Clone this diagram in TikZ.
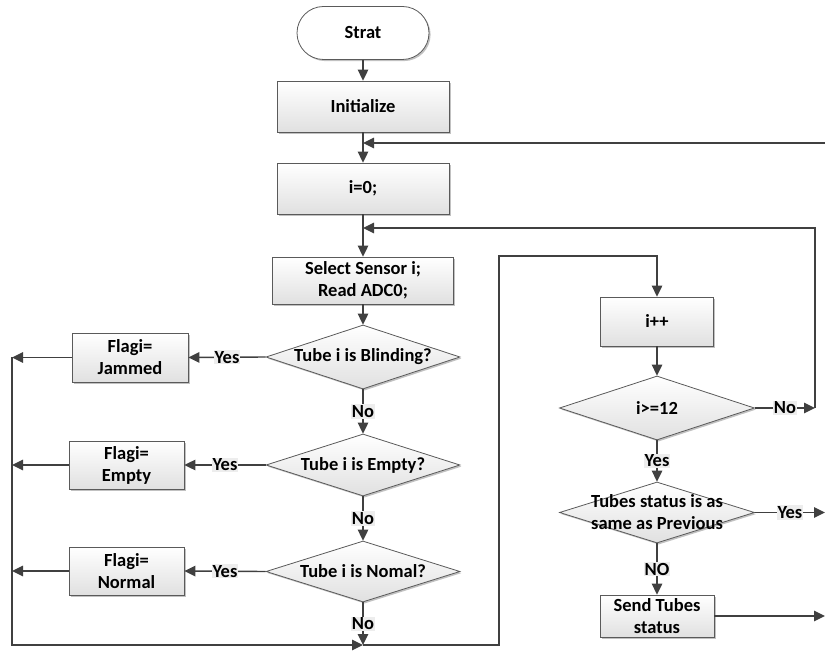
\documentclass[tikz,border=0pt]{standalone}
\usepackage{fontspec}
\setmainfont{Carlito}
\usetikzlibrary{arrows.meta,shapes.geometric,shadows}
\definecolor{ln}{HTML}{404040}
\definecolor{bd}{HTML}{5A5A5A}
\definecolor{lb}{HTML}{EDEDED}
\begin{document}
\begin{tikzpicture}[x=1pt,y=-1pt,
  font=\fontsize{18.5}{22}\selectfont\bfseries,
  shad/.style={drop shadow={shadow xshift=1.6pt,shadow yshift=-1.6pt,fill=black!30,opacity=0.8}},
  box/.style={draw=bd, line width=0.8pt, top color=white, bottom color=black!12, shad, align=center, inner sep=2pt},
  term/.style={draw=bd, line width=0.8pt, fill=white, shad, rounded corners=26.5pt, minimum width=132pt, minimum height=53pt},
  dec/.style={draw=bd, line width=0.8pt, shape=diamond, top color=white, bottom color=black!12, shad, inner sep=0pt},
  lbl/.style={fill=lb, inner sep=1pt, text=black},
  arr/.style={draw=ln, line width=1.4pt, -{Triangle[length=11pt,width=10.5pt]}},
  ln/.style={draw=ln, line width=1.4pt}
]
\useasboundingbox (0,0) rectangle (825,652);

% left column
\node[term] (start) at (363,33) {Strat};
\node[box, minimum width=172pt, minimum height=51pt] (init) at (363,106.5) {Initialize};
\node[box, minimum width=172pt, minimum height=51pt] (i0) at (363,188.5) {i=0;};
\node[box, minimum width=181pt, minimum height=47pt] (sel) at (363,280.5) {Select Sensor i;\\Read ADC0;};
\node[dec, minimum width=194pt, minimum height=64pt, label={center:Tube i is Blinding?}] (d1) at (363,357) {};
\node[dec, minimum width=194pt, minimum height=62pt, label={center:Tube i is Empty?}] (d2) at (363,465) {};
\node[dec, minimum width=194pt, minimum height=61pt, label={center:Tube i is Nomal?}] (d3) at (363,571.5) {};
\node[box, minimum width=116pt, minimum height=49pt] (f1) at (130,357.5) {Flagi=\\Jammed};
\node[box, minimum width=115pt, minimum height=48pt] (f2) at (126.5,465) {Flagi=\\Empty};
\node[box, minimum width=115pt, minimum height=48pt] (f3) at (126.5,571) {Flagi=\\Normal};

% right column
\node[box, minimum width=113pt, minimum height=49pt] (ipp) at (657,321.5) {i++};
\node[dec, minimum width=195pt, minimum height=64pt, label={center:i>=12}] (d12) at (657,408) {};
\node[dec, minimum width=195pt, minimum height=61pt, label={[align=center]center:Tubes status is as\\same as Previous}] (d13) at (657,512.5) {};
\node[box, minimum width=114pt, minimum height=42pt] (send) at (657,616) {Send Tubes\\status};

% helper coordinates
\coordinate (rt) at (825,143);
\coordinate (nr) at (815,408);
\coordinate (nt) at (815,228);
\coordinate (lx) at (12,0);
\coordinate (bl) at (12,645);
\coordinate (bm) at (363,645);
\coordinate (br) at (499,645);
\coordinate (bt) at (499,256);
\coordinate (ye) at (825,512.5);
\coordinate (se) at (825,616);

% connectors
\draw[arr] (start) -- (init);
\draw[arr] (init) -- (i0);
\draw[arr] (rt) -- (rt -| init.south);
\draw[arr] (i0) -- (sel);
\draw[arr] (d12.east) -- node[lbl]{No} (nr);
\draw[arr] (nr) -- (nt) -- (nt -| sel.north);
\draw[arr] (sel) -- (d1);
\draw[arr] (d1.west) -- node[lbl]{Yes} (f1.east);
\draw[arr] (d1.south) -- node[lbl]{No} (d2.north);
\draw[arr] (d2.west) -- node[lbl]{Yes} (f2.east);
\draw[arr] (d2.south) -- node[lbl]{No} (d3.north);
\draw[arr] (d3.west) -- node[lbl]{Yes} (f3.east);
\draw[arr] (f1.west) -- (f1.west -| lx);
\draw[arr] (f2.west) -- (f2.west -| lx);
\draw[arr] (f3.west) -- (f3.west -| lx);
\draw[arr] (f1.west -| lx) -- (bl) -- (bm);
\draw[arr] (d3.south) -- node[lbl]{No} (bm);
\draw[arr] (bm) -- (br) -- (bt) -- (bt -| ipp.north) -- (ipp.north);
\draw[arr] (ipp) -- (d12);
\draw[arr] (d12.south) -- node[lbl]{Yes} (d13.north);
\draw[arr] (d13.east) -- node[lbl]{Yes} (ye);
\draw[arr] (d13.south) -- node[lbl]{NO} (send.north);
\draw[arr] (send.east) -- (se);
\end{tikzpicture}
\end{document}
